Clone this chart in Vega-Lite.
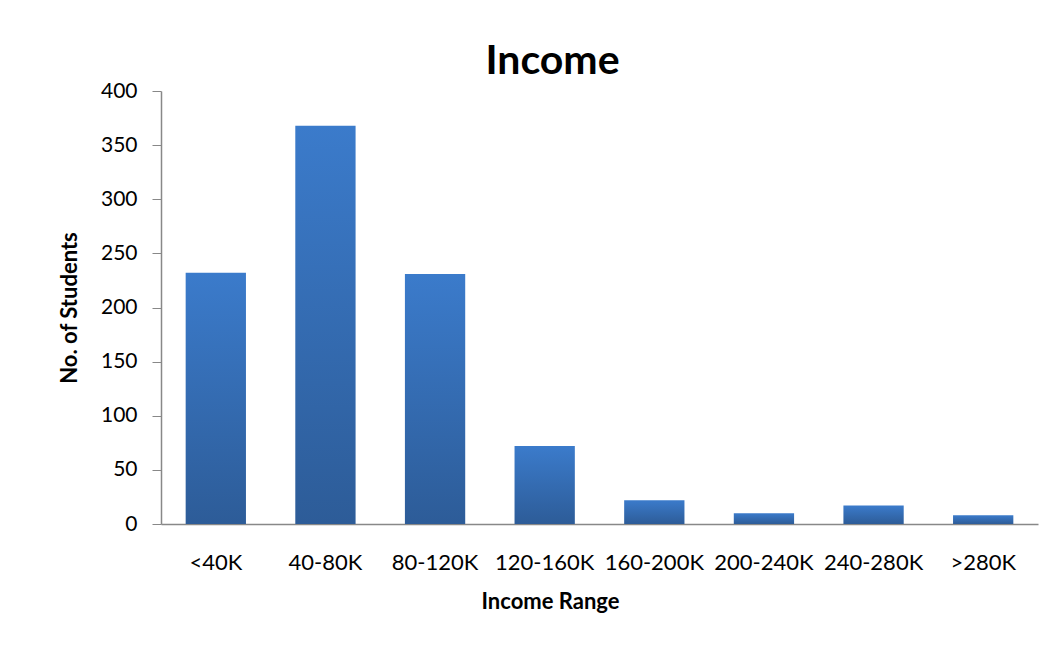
{
  "$schema": "https://vega.github.io/schema/vega-lite/v6.json",
  "autosize": {"type": "none"},
  "width": 877,
  "height": 433,
  "padding": {"left": 161, "top": 91, "right": 12, "bottom": 126},
  "background": "white",
  "title": {
    "text": "Income",
    "font": "Lato",
    "fontSize": 41,
    "fontWeight": "bold",
    "color": "#000000",
    "anchor": "middle",
    "dx": -47,
    "offset": -3
  },
  "data": {
    "values": [
      {"range": "<40K", "students": 232},
      {"range": "40-80K", "students": 368},
      {"range": "80-120K", "students": 231},
      {"range": "120-160K", "students": 72},
      {"range": "160-200K", "students": 22},
      {"range": "200-240K", "students": 10},
      {"range": "240-280K", "students": 17},
      {"range": ">280K", "students": 8}
    ]
  },
  "mark": {
    "type": "bar",
    "color": {
      "gradient": "linear",
      "x1": 0, "y1": 0, "x2": 0, "y2": 1,
      "stops": [
        {"offset": 0, "color": "#3b7bcb"},
        {"offset": 1, "color": "#2d5c98"}
      ]
    }
  },
  "encoding": {
    "x": {
      "field": "range",
      "type": "nominal",
      "sort": null,
      "scale": {"paddingInner": 0.45, "paddingOuter": 0.225},
      "axis": {
        "title": "Income Range",
        "labelAngle": 0,
        "ticks": false,
        "domainColor": "#888888",
        "domainWidth": 1.5,
        "labelFont": "Lato",
        "labelFontSize": 22,
        "labelColor": "#000000",
        "labelPadding": 28,
        "titleFont": "Lato",
        "titleFontSize": 22,
        "titleFontWeight": "bold",
        "titleColor": "#000000",
        "titlePadding": 18,
        "titleX": 389
      }
    },
    "y": {
      "field": "students",
      "type": "quantitative",
      "scale": {"domain": [0, 400]},
      "axis": {
        "title": "No. of Students",
        "values": [0, 50, 100, 150, 200, 250, 300, 350, 400],
        "grid": false,
        "domainColor": "#888888",
        "domainWidth": 1.5,
        "tickColor": "#888888",
        "tickSize": 9,
        "labelFont": "Lato",
        "labelFontSize": 21,
        "labelColor": "#000000",
        "labelPadding": 15,
        "titleFont": "Lato",
        "titleFontSize": 22,
        "titleFontWeight": "bold",
        "titleColor": "#000000",
        "titlePadding": 19
      }
    }
  },
  "config": {
    "view": {"stroke": null}
  }
}
